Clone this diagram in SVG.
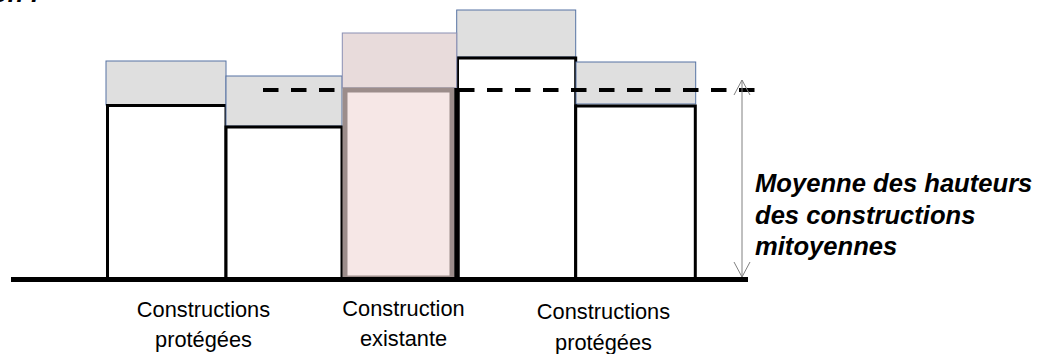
<svg xmlns="http://www.w3.org/2000/svg" width="1045" height="354" viewBox="0 0 1045 354">
<style>
.top{fill:#dfdfdf;stroke:#5673a3;stroke-width:1}
.topx{fill:#e8dbdb;stroke:#8a8fb3;stroke-width:1}
.wall{fill:#ffffff;stroke:#000000;stroke-width:3}
.lbl{font-family:"Liberation Sans",Arial,sans-serif;font-size:21.8px;fill:#000;text-anchor:middle}
.big{font-family:"Liberation Sans",Arial,sans-serif;font-size:25.6px;font-weight:bold;font-style:italic;fill:#000}
</style>
<defs>
<marker id="openArrow" viewBox="-16 -9 17 18" refX="0" refY="0" markerWidth="17" markerHeight="18" markerUnits="userSpaceOnUse" orient="auto-start-reverse">
<path d="M-15,-8 L0,0 L-15,8" fill="none" stroke="#808080" stroke-width="1"/>
</marker>
</defs>
<rect width="1045" height="354" fill="#ffffff"/>
<text class="big" x="-8" y="2">on :</text>
<g id="b1">
<rect class="top" x="106" y="61" width="120" height="44"/>
<rect class="wall" x="107.5" y="105.5" width="118.5" height="174"/>
</g>
<g id="b2">
<rect class="top" x="226" y="76" width="116" height="50"/>
<rect class="wall" x="226" y="127" width="116" height="152"/>
</g>
<g id="b4">
<rect class="top" x="456.7" y="10" width="119" height="47"/>
<rect class="wall" x="457.5" y="58" width="118.2" height="221"/>
</g>
<g id="b5">
<rect class="top" x="576" y="62" width="119.7" height="42"/>
<rect class="wall" x="575.7" y="106" width="119.6" height="173"/>
</g>
<g id="avg-line">
<line x1="263" y1="90" x2="755" y2="90" stroke="#000" stroke-width="4" stroke-dasharray="15.5 12.5"/>
</g>
<g id="b3">
<rect class="topx" x="342.3" y="33" width="114.4" height="55"/>
<rect x="345" y="90" width="107" height="188" fill="#f6e7e6" stroke="#9c8d8b" stroke-width="5"/>
<line x1="457" y1="88" x2="457" y2="279" stroke="#000" stroke-width="5.5"/>
</g>
<g id="ground">
<line x1="11" y1="279.5" x2="748" y2="279.5" stroke="#000" stroke-width="5"/>
</g>
<g id="connectors">
<line x1="742" y1="80" x2="742" y2="277" stroke="#808080" stroke-width="1" marker-start="url(#openArrow)" marker-end="url(#openArrow)"/>
</g>
<g id="label-protegees-1">
<text class="lbl" x="203.5" y="316.5">Constructions</text>
<text class="lbl" x="203.5" y="347">protégées</text>
</g>
<g id="label-existante">
<text class="lbl" x="403.5" y="316">Construction</text>
<text class="lbl" x="403.5" y="346">existante</text>
</g>
<g id="label-protegees-2">
<text class="lbl" x="603.5" y="318.5">Constructions</text>
<text class="lbl" x="603.5" y="350">protégées</text>
</g>
<g id="label-moyenne">
<text class="big" x="755" y="192">Moyenne des hauteurs</text>
<text class="big" x="755" y="223.5">des constructions</text>
<text class="big" x="755" y="255">mitoyennes</text>
</g>
</svg>
